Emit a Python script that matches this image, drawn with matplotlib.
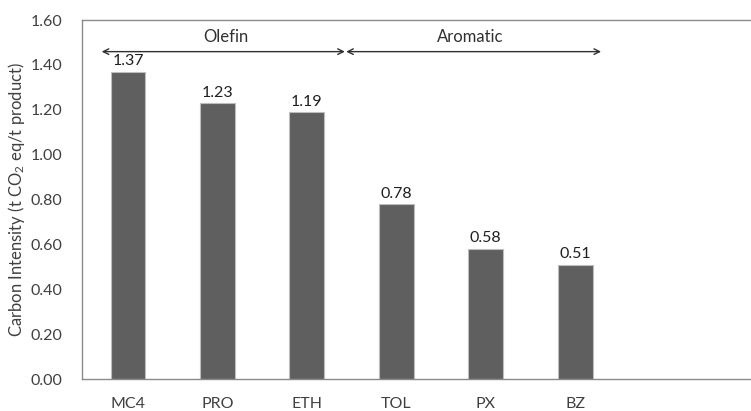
import matplotlib.pyplot as plt

categories = ['MC4', 'PRO', 'ETH', 'TOL', 'PX', 'BZ']
values = [1.37, 1.23, 1.19, 0.78, 0.58, 0.51]
value_labels = ['1.37', '1.23', '1.19', '0.78', '0.58', '0.51']
yticks = [0.0, 0.2, 0.4, 0.6, 0.8, 1.0, 1.2, 1.4, 1.6]

plt.rcParams['font.family'] = ['Lato', 'DejaVu Sans']
plt.rcParams['mathtext.fontset'] = 'custom'
plt.rcParams['mathtext.rm'] = 'Lato'
txt = '#404040'

fig = plt.figure(figsize=(7.51, 4.11), dpi=100)
ax = fig.add_axes([82 / 751, 32 / 411, 1 - 82 / 751 + 0.01, 359 / 411])

x = list(range(len(categories)))
bars = ax.bar(x, values, width=0.39, color='#5f5f5f', edgecolor='#bdbdbd', linewidth=0.8)

for xi, v, lab in zip(x, values, value_labels):   # value labels on top of bars
    ax.annotate(lab, (xi, v), xytext=(0, 2.5), textcoords='offset points',
                ha='center', va='bottom', fontsize=11.5, color='#202020')

ax.set_xlim(-0.514, 7.05)
ax.set_ylim(0, 1.6)
ax.set_yticks(yticks)
ax.set_yticklabels(['%.2f' % t for t in yticks])
ax.set_xticks(x)
ax.set_xticklabels(categories)
ax.tick_params(axis='both', length=0, labelsize=11.5, labelcolor=txt)
ax.tick_params(axis='y', pad=14)
ax.tick_params(axis='x', pad=13)

for s in ['left', 'top', 'bottom', 'right']:
    ax.spines[s].set_color('#8a8a8a')
    ax.spines[s].set_linewidth(1.0)

ax.set_ylabel('Carbon Intensity (t CO$\\mathregular{_2}$ eq/t product)', fontsize=12, color=txt, labelpad=3)

# group arrows
arrow_y = 1.459
ax.annotate('', xy=(-0.294, arrow_y), xytext=(2.425, arrow_y),
            arrowprops=dict(arrowstyle='<->', color='#303030', lw=1.0, shrinkA=0, shrinkB=0))
ax.annotate('', xy=(2.44, arrow_y), xytext=(5.29, arrow_y),
            arrowprops=dict(arrowstyle='<->', color='#303030', lw=1.0, shrinkA=0, shrinkB=0))
ax.text(1.10, 1.526, 'Olefin', ha='center', va='center', fontsize=12, color='#303030')
ax.text(3.83, 1.526, 'Aromatic', ha='center', va='center', fontsize=12, color='#303030')

fig.savefig('out.png', dpi=100)
